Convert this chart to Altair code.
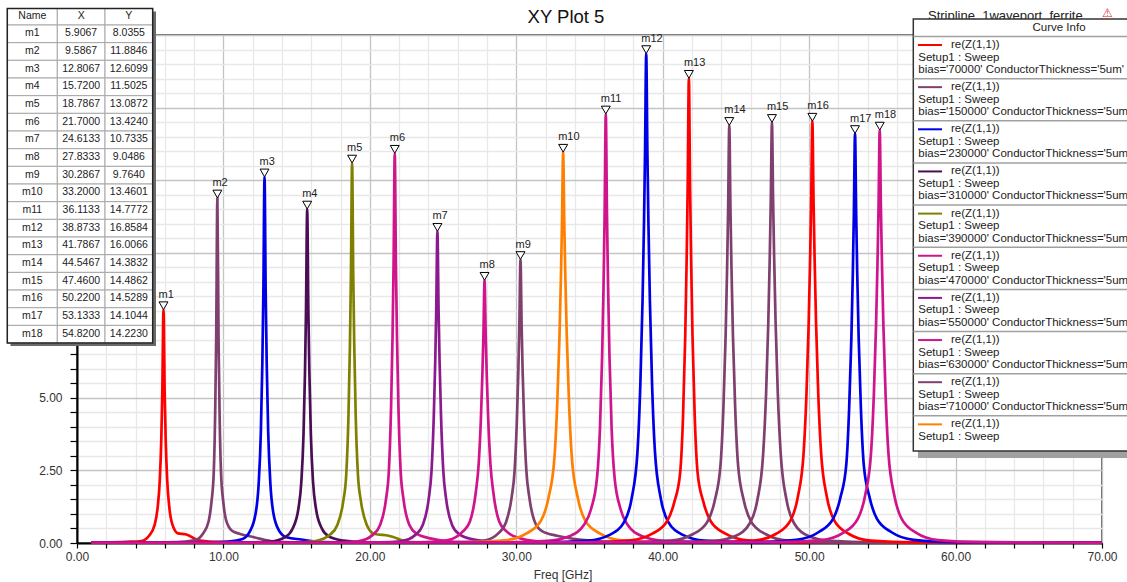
import altair as alt
import pandas as pd

# ---------------- data ----------------
marker_names = ["m1", "m2", "m3", "m4", "m5", "m6", "m7", "m8", "m9",
                "m10", "m11", "m12", "m13", "m14", "m15", "m16", "m17", "m18"]
marker_x = [5.9067, 9.5867, 12.8067, 15.7200, 18.7867, 21.7000, 24.6133, 27.8333, 30.2867,
            33.2000, 36.1133, 38.8733, 41.7867, 44.5467, 47.4600, 50.2200, 53.1333, 54.8200]
marker_y = [8.0355, 11.8846, 12.6099, 11.5025, 13.0872, 13.4240, 10.7335, 9.0486, 9.7640,
            13.4601, 14.7772, 16.8584, 16.0066, 14.3832, 14.4862, 14.5289, 14.1044, 14.2230]

RED = "#ff0000"
BRN = "#7f3f6f"
BLU = "#0000e6"
DPU = "#4b0d55"
OLV = "#808000"
MAG = "#d0148c"
PUR = "#8b1a8f"
ORG = "#ff8000"

peak_colors = [RED, BRN, BLU, DPU, OLV, MAG, PUR, MAG, BRN,
               ORG, MAG, BLU, RED, BRN, BRN, RED, BLU, MAG]

# distance from each resonance (GHz) at which the curve was read
skirt_offsets = [0.08, 0.15, 0.25, 0.4, 0.6, 1.0, 1.5, 2.5, 4.0, 7.0]
skirt_left = [
    [5.22, 3.57, 2.19, 1.22, 0.63, 0.24, 0.07, 0.04, 0.02, 0.01],
    [7.07, 4.49, 2.41, 1.43, 0.74, 0.31, 0.10, 0.04, 0.02, 0.01],
    [8.61, 6.17, 3.83, 2.04, 1.04, 0.40, 0.14, 0.05, 0.02, 0.01],
    [8.03, 5.87, 3.75, 2.10, 1.18, 0.49, 0.20, 0.05, 0.02, 0.01],
    [9.19, 6.74, 4.33, 2.35, 1.45, 0.63, 0.29, 0.07, 0.02, 0.01],
    [9.59, 7.15, 4.70, 2.50, 1.50, 0.62, 0.28, 0.06, 0.02, 0.01],
    [8.02, 6.22, 4.32, 2.50, 1.50, 0.62, 0.28, 0.06, 0.02, 0.01],
    [7.12, 5.78, 4.28, 2.73, 1.74, 0.74, 0.39, 0.10, 0.03, 0.01],
    [7.44, 5.86, 4.17, 2.50, 1.59, 0.70, 0.34, 0.08, 0.03, 0.01],
    [10.97, 9.18, 7.11, 4.85, 2.91, 1.56, 0.78, 0.33, 0.09, 0.02],
    [11.33, 8.98, 6.44, 3.91, 2.25, 1.18, 0.62, 0.23, 0.07, 0.02],
    [13.47, 11.06, 8.36, 5.48, 3.12, 1.52, 0.73, 0.28, 0.08, 0.02],
    [12.33, 9.82, 7.09, 4.35, 2.40, 1.40, 0.74, 0.32, 0.09, 0.02],
    [11.50, 9.45, 7.14, 4.69, 2.68, 1.45, 0.73, 0.30, 0.08, 0.02],
    [11.78, 9.83, 7.59, 5.15, 3.07, 1.47, 0.69, 0.24, 0.07, 0.02],
    [11.81, 9.87, 7.61, 5.17, 3.08, 1.57, 0.77, 0.31, 0.08, 0.02],
    [11.29, 9.30, 7.05, 4.66, 2.68, 1.56, 0.83, 0.37, 0.11, 0.03],
    [11.59, 9.69, 7.51, 5.12, 3.06, 1.63, 0.83, 0.35, 0.10, 0.03],
]
skirt_right = [
    [5.22, 3.57, 2.19, 1.22, 0.65, 0.33, 0.30, 0.08, 0.03, 0.01],
    [7.07, 4.49, 2.41, 1.43, 0.78, 0.42, 0.32, 0.20, 0.04, 0.01],
    [8.61, 6.17, 3.83, 2.04, 1.04, 0.42, 0.20, 0.12, 0.03, 0.01],
    [8.03, 5.87, 3.75, 2.10, 1.18, 0.50, 0.22, 0.08, 0.02, 0.01],
    [9.19, 6.74, 4.33, 2.35, 1.45, 0.63, 0.32, 0.25, 0.03, 0.01],
    [9.59, 7.15, 4.70, 2.50, 1.50, 0.62, 0.32, 0.15, 0.04, 0.01],
    [8.02, 6.22, 4.32, 2.50, 1.50, 0.62, 0.30, 0.12, 0.03, 0.01],
    [7.12, 5.78, 4.28, 2.73, 1.74, 0.74, 0.40, 0.15, 0.04, 0.01],
    [7.44, 5.86, 4.17, 2.50, 1.59, 0.70, 0.40, 0.25, 0.12, 0.03],
    [10.97, 9.18, 7.11, 4.85, 2.91, 1.56, 0.78, 0.33, 0.09, 0.02],
    [11.33, 8.98, 6.44, 3.91, 2.25, 1.18, 0.62, 0.23, 0.07, 0.02],
    [13.47, 11.06, 8.36, 5.48, 3.12, 1.52, 0.73, 0.28, 0.08, 0.02],
    [12.33, 9.82, 7.09, 4.35, 2.40, 1.40, 0.74, 0.32, 0.09, 0.02],
    [11.50, 9.45, 7.14, 4.69, 2.68, 1.45, 0.73, 0.30, 0.08, 0.02],
    [11.78, 9.83, 7.59, 5.15, 3.07, 1.47, 0.69, 0.24, 0.07, 0.02],
    [11.81, 9.87, 7.61, 5.17, 3.08, 1.57, 0.77, 0.31, 0.08, 0.02],
    [11.29, 9.30, 7.05, 4.66, 2.68, 1.56, 0.83, 0.37, 0.11, 0.03],
    [11.59, 9.69, 7.51, 5.12, 3.06, 1.63, 0.83, 0.35, 0.10, 0.03],
]
sweep_start = 1.0
sweep_end = 70.0
floor_value = 0.01

legend_colors = [RED, BRN, BLU, DPU, OLV, MAG, PUR, MAG, BRN, ORG]
legend_bias = ["70000", "150000", "230000", "310000", "390000",
               "470000", "550000", "630000", "710000", ""]
table_header = ["Name", "X", "Y"]

FONT = "Liberation Sans"

# ---------------- tables ----------------
rows = []
for i in range(len(marker_x)):
    c = marker_x[i]
    pts = {sweep_start: floor_value, sweep_end: floor_value, c: marker_y[i]}
    for d, lv, rv in zip(skirt_offsets, skirt_left[i], skirt_right[i]):
        pts[round(c - d, 4)] = lv
        pts[round(c + d, 4)] = rv
    for f in sorted(pts):
        if sweep_start <= f <= sweep_end:
            rows.append({"curve": marker_names[i], "freq": f, "val": pts[f],
                         "color": peak_colors[i]})
curves_df = pd.DataFrame(rows)

markers_df = pd.DataFrame({"name": marker_names, "x": marker_x, "y": marker_y})

cells = []
for r in range(len(marker_names) + 1):
    for ci in range(3):
        if r == 0:
            t = table_header[ci]
        else:
            t = [marker_names[r - 1], f"{marker_x[r - 1]:.4f}", f"{marker_y[r - 1]:.4f}"][ci]
        cells.append({"r": r, "c": ci, "text": t})
table_df = pd.DataFrame(cells)

legend_df = pd.DataFrame({"idx": list(range(len(legend_colors))),
                          "color": legend_colors, "bias": legend_bias})
one = pd.DataFrame({"k": [0]})

W, H = 1025, 508

xs = alt.Scale(domain=[0, 70], nice=False, zero=False)
ys = alt.Scale(domain=[0, 17.5], nice=False, zero=False)

x_axis = alt.Axis(
    values=list(range(0, 71, 2)),
    labelExpr="datum.value % 10 === 0 ? format(datum.value, '.2f') : ''",
    labelOverlap=False, labelFlush=False,
    gridColor={"condition": {"test": "datum.value % 10 === 0", "value": "#c4c4c4"}, "value": "#e8e8e8"},
    gridWidth=1.3, tickColor="#000", tickSize=5, tickWidth=1.2,
    domainColor="#000", domainWidth=2,
    labelFont=FONT, labelFontSize=12, labelColor="#333", labelPadding=3, title=None,
)
y_axis = alt.Axis(
    values=[k * 0.5 for k in range(36)],
    labelExpr="datum.value % 2.5 === 0 ? format(datum.value, '.2f') : ''",
    labelOverlap=False, labelFlush=False,
    gridColor={"condition": {"test": "datum.value % 2.5 === 0", "value": "#c4c4c4"}, "value": "#e8e8e8"},
    gridWidth=1.3, tickColor="#000", tickSize=7, tickWidth=1.2,
    domainColor="#000", domainWidth=2,
    labelFont=FONT, labelFontSize=12, labelColor="#333", labelPadding=8, title=None,
)

curves = alt.Chart(curves_df).mark_line(strokeWidth=2.7, interpolate="monotone").encode(
    x=alt.X("freq:Q", scale=xs, axis=x_axis),
    y=alt.Y("val:Q", scale=ys, axis=y_axis),
    color=alt.Color("color:N", scale=None),
    detail="curve:N",
    order="freq:Q",
)

marks = alt.Chart(markers_df).mark_point(
    shape="triangle-down", filled=True, fill="white", stroke="black",
    strokeWidth=1, size=80, yOffset=-4, opacity=1
).encode(x=alt.X("x:Q", scale=xs, axis=x_axis), y=alt.Y("y:Q", scale=ys, axis=y_axis))

mlabels = alt.Chart(markers_df).mark_text(
    font=FONT, fontSize=11, color="#222", align="left", baseline="middle", dx=-5, dy=-15
).encode(x=alt.X("x:Q", scale=xs, axis=x_axis), y=alt.Y("y:Q", scale=ys, axis=y_axis),
         text="name:N")

# ---------- titles ----------
title = alt.Chart(one).mark_text(text="XY Plot 5", font=FONT, fontSize=18.5, color="#111",
                                 baseline="middle", align="center").encode(
    x=alt.value(489), y=alt.value(-18))
xtitle = alt.Chart(one).mark_text(text="Freq [GHz]", font=FONT, fontSize=12, color="#333",
                                  baseline="middle", align="center").encode(
    x=alt.value(486), y=alt.value(540))
project = alt.Chart(one).mark_text(text="Stripline_1waveport_ferrite", font=FONT, fontSize=13,
                                   color="#222", baseline="alphabetic", align="left").encode(
    x=alt.value(851), y=alt.value(-15))
warn = alt.Chart(one).mark_text(text="⚠", fontSize=12, color="#e02020",
                                baseline="middle", align="center").encode(
    x=alt.value(1030), y=alt.value(-22))

# ---------- marker table ----------
tbase = alt.Chart(table_df).transform_calculate(
    x0="datum.c === 0 ? -69.7 : (datum.c === 1 ? -19.7 : 28)",
    x1="datum.c === 0 ? -19.7 : (datum.c === 1 ? 28 : 75.7)",
    y0="datum.r === 0 ? -26.5 : -10 + (datum.r - 1) * 17.67",
    y1="datum.r === 0 ? -10 : -10 + datum.r * 17.67",
).transform_calculate(
    xm="(datum.x0 + datum.x1) / 2",
    ym="(datum.y0 + datum.y1) / 2 - 0.5",
)
t_shadow = alt.Chart(one).mark_rect(fill="#6a6a6a").encode(
    x=alt.value(-66.5), x2=alt.value(79), y=alt.value(-23.5), y2=alt.value(311))
t_cells = tbase.mark_rect(fill="white", stroke="#a8a8a8", strokeWidth=1).encode(
    x=alt.X("x0:Q", scale=None, axis=None), x2="x1:Q",
    y=alt.Y("y0:Q", scale=None, axis=None), y2="y1:Q")
t_text = tbase.mark_text(font=FONT, fontSize=10.5, color="#222", baseline="middle",
                         align="center").encode(
    x=alt.X("xm:Q", scale=None, axis=None),
    y=alt.Y("ym:Q", scale=None, axis=None), text="text:N")
t_border = alt.Chart(one).mark_rect(fillOpacity=0, stroke="#222", strokeWidth=1.5).encode(
    x=alt.value(-69.7), x2=alt.value(75.7), y=alt.value(-26.5), y2=alt.value(308))

# ---------- curve info legend ----------
lbase = alt.Chart(legend_df).transform_calculate(
    ly="10 + 42.15 * datum.idx", sy="1.5 + 42.15 * datum.idx")
l_shadow = alt.Chart(one).mark_rect(fill="#a0a0a0").encode(
    x=alt.value(841), x2=alt.value(1160), y=alt.value(-11), y2=alt.value(423))
l_box = alt.Chart(one).mark_rect(fill="white", stroke="#333", strokeWidth=1.5).encode(
    x=alt.value(836.3), x2=alt.value(1160), y=alt.value(-16), y2=alt.value(416))
l_head = alt.Chart(one).mark_text(text="Curve Info", font=FONT, fontSize=11.5, color="#222",
                                  baseline="middle", align="center").encode(
    x=alt.value(982), y=alt.value(-7.5))
l_sep = lbase.mark_rule(color="#a0a0a0", strokeWidth=1.5).encode(
    x=alt.value(836.3), x2=alt.value(1160), y=alt.Y("sy:Q", scale=None, axis=None))
l_line = lbase.mark_rule(strokeWidth=2).encode(
    x=alt.value(841), x2=alt.value(865), y=alt.Y("ly:Q", scale=None, axis=None),
    color=alt.Color("color:N", scale=None))
l_t1 = lbase.mark_text(text="re(Z(1,1))", font=FONT, fontSize=11.5, color="#222",
                       baseline="middle", align="left").encode(
    x=alt.value(874), y=alt.Y("ly:Q", scale=None, axis=None))
l_t2 = lbase.mark_text(text="Setup1 : Sweep", font=FONT, fontSize=11.5, color="#222",
                       baseline="middle", align="left", dy=12.5).encode(
    x=alt.value(841.3), y=alt.Y("ly:Q", scale=None, axis=None))
l_t3 = lbase.transform_filter("datum.bias !== ''").transform_calculate(
    label="\"bias='\" + datum.bias + \"' ConductorThickness='5um'\""
).mark_text(font=FONT, fontSize=11.5, color="#222", baseline="middle", align="left",
            dy=25).encode(
    x=alt.value(841.3), y=alt.Y("ly:Q", scale=None, axis=None), text="label:N")

chart = alt.layer(
    curves, marks, mlabels, title, xtitle, project, warn,
    t_shadow, t_cells, t_text, t_border,
    l_shadow, l_box, l_head, l_sep, l_line, l_t1, l_t2, l_t3,
).properties(
    width=W, height=H,
    padding={"left": 77, "top": 35, "right": 25, "bottom": 39},
    autosize=alt.AutoSizeParams(type="none"),
    background="white",
).configure_view(stroke="#3a3a3a", strokeWidth=1.5)

chart.save("out.html", embed_options={"renderer": "svg", "actions": False})
